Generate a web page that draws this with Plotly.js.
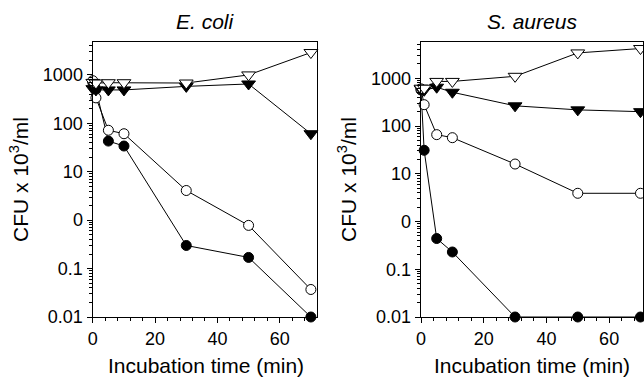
<!DOCTYPE html>
<html>
<head>
<meta charset="utf-8">
<script src="https://cdn.plot.ly/plotly-3.0.1.min.js"></script>
<style>html,body{margin:0;padding:0;background:#fff;}#chart{width:644px;height:378px;}</style>
</head>
<body>
<div id="chart"></div>
<script>
// Shared time points (min)
const time = [0, 1, 5, 10, 30, 50, 70];

// E. coli (CFU x 10^3/ml)
const ecoliOpenTri    = [700, 680, 690, 690, 680, 1000, 2900];
const ecoliFilledTri  = [520, 490, 490, 490, 580, 650, 61];
const ecoliOpenCirc   = [760, 336, 72, 61, 4.1, 0.78, 0.037];
const ecoliFilledCirc = [700, 500, 43, 34, 0.3, 0.17, 0.01];

// S. aureus (CFU x 10^3/ml)
const saureusOpenTri    = [620, 620, 860, 860, 1100, 3400, 4200];
const saureusFilledTri  = [600, 560, 650, 510, 265, 218, 200];
const saureusOpenCirc   = [600, 280, 66, 57, 16, 3.9, 3.9];
const saureusFilledCirc = [570, 31, 0.44, 0.23, 0.01, 0.01, 0.01];

// Tick labels and texts
const yTickVals = [0.01, 0.1, 1, 10, 100, 1000];
const yTickText = ['0.01', '0.1', '0', '10', '100', '1000'];
const panelTitles = ['<i>E. coli</i>', '<i>S. aureus</i>'];
const xTitle = 'Incubation time (min)';
const yTitle = 'CFU x 10<sup>3</sup>/ml';

const FONT = 'Liberation Sans, Arial, sans-serif';

const yMinor = [];
for (let e = -2; e <= 3; e++) for (let m = 2; m <= 9; m++) yMinor.push(m * Math.pow(10, e));

function mk(y, xa, ya, symbol, fill) {
  return {
    x: time, y: y, xaxis: xa, yaxis: ya, type: 'scatter', mode: 'lines+markers',
    cliponaxis: false, showlegend: false,
    line: {color: '#000', width: 1},
    marker: {symbol: symbol, size: symbol.indexOf('triangle') === 0 ? 12 : 10, color: fill, line: {color: '#000', width: 1}}
  };
}

const traces = [
  mk(ecoliFilledCirc, 'x', 'y', 'circle', '#000'),
  mk(ecoliOpenCirc, 'x', 'y', 'circle', '#fff'),
  mk(ecoliFilledTri, 'x', 'y', 'triangle-down', '#000'),
  mk(ecoliOpenTri, 'x', 'y', 'triangle-down', '#fff'),
  mk(saureusFilledCirc, 'x2', 'y2', 'circle', '#000'),
  mk(saureusOpenCirc, 'x2', 'y2', 'circle', '#fff'),
  mk(saureusFilledTri, 'x2', 'y2', 'triangle-down', '#000'),
  mk(saureusOpenTri, 'x2', 'y2', 'triangle-down', '#fff')
];

function xAxis(domain, range, anchor) {
  return {
    domain: domain, range: range, anchor: anchor,
    tickmode: 'linear', tick0: 0, dtick: 20,
    ticks: 'outside', ticklen: 5, tickwidth: 1, tickcolor: '#000',
    minor: {tickmode: 'linear', tick0: 0, dtick: 4, ticks: 'outside', ticklen: 3, tickwidth: 1, tickcolor: '#000'},
    showline: true, linecolor: '#000', linewidth: 1, mirror: true,
    showgrid: false, zeroline: false,
    tickfont: {family: FONT, size: 18, color: '#000'}
  };
}
function yAxis(domain, range, anchor) {
  return {
    domain: domain, range: range, anchor: anchor, type: 'log',
    tickmode: 'array', tickvals: yTickVals, ticktext: yTickText,
    ticks: 'outside', ticklen: 5, tickwidth: 1, tickcolor: '#000',
    minor: {tickmode: 'array', tickvals: yMinor, ticks: 'outside', ticklen: 3, tickwidth: 1, tickcolor: '#000'},
    showline: true, linecolor: '#000', linewidth: 1, mirror: true,
    showgrid: false, zeroline: false,
    tickfont: {family: FONT, size: 18, color: '#000'},
    title: {text: yTitle, font: {family: FONT, size: 21, color: '#000'}, standoff: 8}
  };
}

function note(text, xpx, ypx) {
  return {text: text, xref: 'paper', yref: 'paper', x: xpx / 644, y: 1 - ypx / 378,
    xanchor: 'center', yanchor: 'middle', showarrow: false, font: {family: FONT, size: 21, color: '#000'}};
}

const yDom = [61 / 378, 336 / 378];
const layout = {
  width: 644, height: 378,
  margin: {l: 0, r: 0, t: 0, b: 0},
  paper_bgcolor: '#fff', plot_bgcolor: '#fff',
  font: {family: FONT, color: '#000'},
  xaxis: xAxis([92.5 / 644, 316.5 / 644], [-0.1, 71.8], 'y'),
  yaxis: yAxis(yDom, [-2, 3.68], 'x'),
  xaxis2: xAxis([420.7 / 644, 643.3 / 644], [-0.1, 70.9], 'y2'),
  yaxis2: yAxis(yDom, [-2, 3.76], 'x2'),
  annotations: [
    note(panelTitles[0], 205, 21),
    note(panelTitles[1], 532, 21),
    note(xTitle, 205.5, 365),
    note(xTitle, 532, 365)
  ]
};

Plotly.newPlot('chart', traces, layout, {staticPlot: true, displayModeBar: false});
</script>
</body>
</html>
